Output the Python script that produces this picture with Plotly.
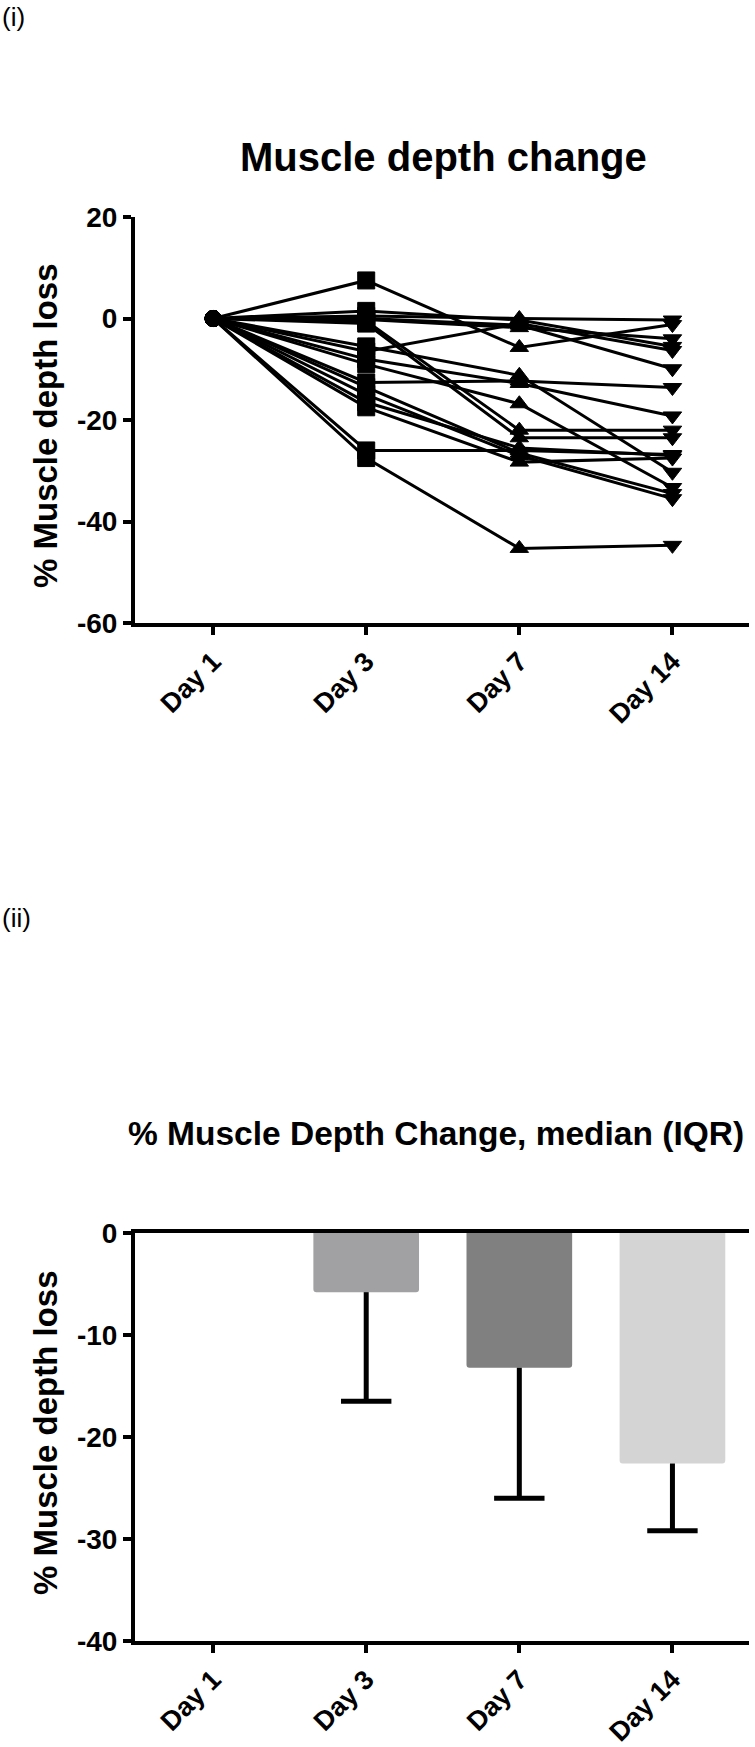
import plotly.graph_objects as go

# ================================
# Dados
# ================================
days = ['Day 1', 'Day 3', 'Day 7', 'Day 14']

# % muscle depth change, one entry per patient
day1_change = [0, 0, 0, 0, 0, 0, 0, 0, 0, 0, 0, 0, 0, 0, 0, 0, 0, 0]
day3_change = [7.5, 1.5, 0.5, 0.0, -0.5, -1.0, -0.2, -5.5, -6.5, -8.0,
               -12.6, -9.0, -13.5, -15.0, -16.5, -17.5, -26.0, -27.5]
day7_change = [-5.7, -0.3, 0.0, -1.3, -22.0, -23.5, -1.8, -11.2, -1.0, -12.8,
               -12.3, -16.8, -26.5, -27.0, -25.5, -28.3, -26.0, -45.3]
day14_change = [-1.2, -5.5, -0.3, -9.9, -22.0, -23.5, -4.0, -30.3, -6.3, -19.2,
                -13.6, -33.3, -34.5, -35.5, -27.0, -27.5, -26.8, -44.7]

# bar chart: median and lower quartile
median_change = [0, -5.8, -13.2, -22.6]
lower_iqr = [0, -16.5, -26.0, -29.2]
bar_colors = ['#ffffff', '#a1a1a4', '#808080', '#d4d4d4']

top_yticks = [-60, -40, -20, 0, 20]
bottom_yticks = [-40, -30, -20, -10, 0]

# ================================
# Figura
# ================================
W, H = 755, 1747
FONT = 'Liberation Sans'


def px_x(v):
    return v / W


def px_y(v):
    return 1 - v / H


fig = go.Figure()

symbols = ['circle', 'square', 'triangle-up', 'triangle-down']
for a, b, c, d in zip(day1_change, day3_change, day7_change, day14_change):
    fig.add_trace(go.Scatter(
        x=days, y=[a, b, c, d], mode='lines+markers',
        line=dict(color='black', width=3),
        marker=dict(symbol=symbols, size=[16, 17, 16, 16], color='black',
                    opacity=1, line=dict(width=1, color='black')),
        showlegend=False, xaxis='x', yaxis='y'))

fig.add_trace(go.Bar(
    x=days, y=median_change, marker=dict(color=bar_colors, line=dict(width=0)),
    width=0.69, showlegend=False, xaxis='x2', yaxis='y2'))

# whiskers (lower side only) and caps
fig.add_trace(go.Scatter(
    x=days[1:], y=median_change[1:], mode='markers',
    marker=dict(size=1, color='rgba(0,0,0,0)'),
    error_y=dict(type='data', symmetric=False,
                 array=[0 for _ in median_change[1:]],
                 arrayminus=[m - l for m, l in zip(median_change[1:], lower_iqr[1:])],
                 width=0, thickness=5, color='black'),
    showlegend=False, xaxis='x2', yaxis='y2'))
fig.add_trace(go.Scatter(
    x=days[1:], y=lower_iqr[1:], mode='markers',
    marker=dict(symbol='line-ew', size=36, line=dict(width=5, color='black')),
    showlegend=False, xaxis='x2', yaxis='y2'))

tickfont = dict(family=FONT, size=28, color='black', weight='bold')
axis_style = dict(showline=True, linewidth=4, linecolor='black', ticks='outside',
                  ticklen=8, tickwidth=4, tickcolor='black', showgrid=False,
                  zeroline=False, tickfont=tickfont, fixedrange=True,
                  automargin=False)

xdom = [px_x(135), px_x(749)]
fig.update_layout(
    width=W, height=H,
    margin=dict(l=0, r=0, t=0, b=0, autoexpand=False),
    paper_bgcolor='white', plot_bgcolor='white',
    barcornerradius=3,
    xaxis=dict(domain=xdom, anchor='y', type='category', range=[-0.51, 3.5],
               tickangle=-45, **axis_style),
    yaxis=dict(domain=[px_y(623), px_y(217)], anchor='x', range=[-60, 20],
               tickvals=top_yticks, ticktext=[str(v) for v in top_yticks],
               **axis_style),
    xaxis2=dict(domain=xdom, anchor='y2', type='category', range=[-0.51, 3.5],
                tickangle=-45, mirror=True, **axis_style),
    yaxis2=dict(domain=[px_y(1641), px_y(1233)], anchor='x2', range=[-40, 0],
                tickvals=bottom_yticks, ticktext=[str(v) for v in bottom_yticks],
                **axis_style),
)
fig.update_xaxes(tickfont_size=27)

annots = [
    dict(text='(i)', x=0, y=px_y(17), xanchor='left', yanchor='middle',
         font=dict(family=FONT, size=26, color='black')),
    dict(text='(ii)', x=0, y=px_y(918), xanchor='left', yanchor='middle',
         font=dict(family=FONT, size=26, color='black')),
    dict(text='Muscle depth change', x=px_x(443), y=px_y(157), xanchor='center',
         yanchor='middle', font=dict(family=FONT, size=40, color='black', weight='bold')),
    dict(text='% Muscle Depth Change, median (IQR)', x=px_x(436), y=px_y(1133),
         xanchor='center', yanchor='middle',
         font=dict(family=FONT, size=33.5, color='black', weight='bold')),
    dict(text='% Muscle depth loss', x=px_x(45), y=px_y(426), textangle=-90,
         xanchor='center', yanchor='middle',
         font=dict(family=FONT, size=33, color='black', weight='bold')),
    dict(text='% Muscle depth loss', x=px_x(45), y=px_y(1433), textangle=-90,
         xanchor='center', yanchor='middle',
         font=dict(family=FONT, size=33, color='black', weight='bold')),
]
for a in annots:
    fig.add_annotation(xref='paper', yref='paper', showarrow=False, **a)

fig.write_html("out.html", config={'displayModeBar': False},
               post_script="document.body.style.margin='0';")
